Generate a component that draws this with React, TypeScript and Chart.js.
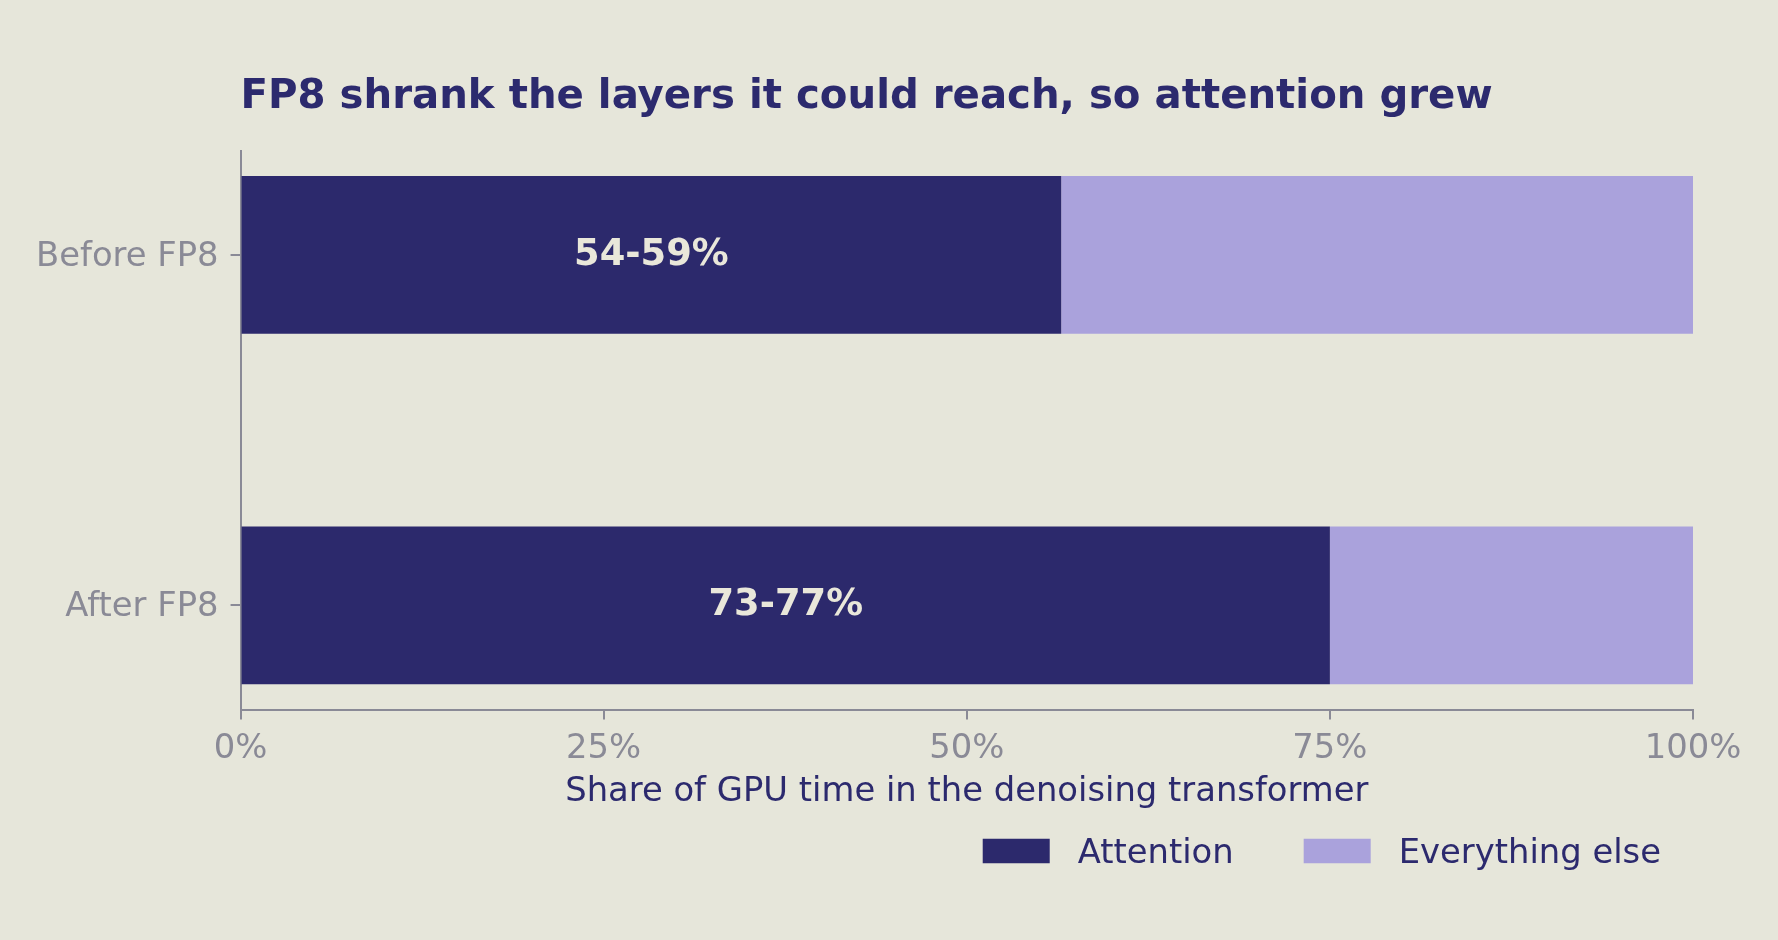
import { useEffect, useRef } from 'react';
import { Chart, registerables } from 'chart.js';

Chart.register(...registerables);

// ---- data ----
const categories = ['Before FP8', 'After FP8'];
const seriesNames = ['Attention', 'Everything else'];
const attentionShare = [56.5, 75];
const everythingElseShare = [43.5, 25];
const attentionLabels = ['54-59%', '73-77%'];
const xTickValues = [0, 25, 50, 75, 100];
const chartTitle = 'FP8 shrank the layers it could reach, so attention grew';
const xAxisTitle = 'Share of GPU time in the denoising transformer';

// ---- style ----
const BG = '#e6e6da';
const DARK = '#2c296c';
const LIGHT = '#aaa2dc';
const NAVY = '#2c2a6e';
const GRAY = '#8a8a96';
const LABEL_TEXT = '#e9e7da';
const FAMILY = "'DejaVu Sans', sans-serif";
const BASE = 33.8;

const barLabelPlugin = {
  id: 'barLabels',
  afterDatasetsDraw(chart: any) {
    const ctx = chart.ctx;
    const meta = chart.getDatasetMeta(0);
    ctx.save();
    ctx.font = `bold 36.8px ${FAMILY}`;
    ctx.fillStyle = LABEL_TEXT;
    ctx.textAlign = 'center';
    ctx.textBaseline = 'alphabetic';
    meta.data.forEach((bar: any, i: number) => {
      const { x, y, base } = bar.getProps(['x', 'y', 'base'], true);
      ctx.fillText(attentionLabels[i], (x + base) / 2, y + 10);
    });
    ctx.restore();
  },
};

const legendPlugin = {
  id: 'customLegend',
  afterDraw(chart: any) {
    const ctx = chart.ctx;
    const xScale = chart.scales.x;
    const cy = xScale.bottom + 44;
    const boxW = 67;
    const boxH = 24.5;
    const gapText = 28;
    const gapItem = 70;
    ctx.save();
    ctx.font = `${BASE}px ${FAMILY}`;
    const items = chart.data.datasets.map((ds: any) => ({
      label: ds.label as string,
      color: ds.backgroundColor as string,
      w: ctx.measureText(ds.label).width as number,
    }));
    const total =
      items.reduce((s: number, it: any) => s + boxW + gapText + it.w, 0) +
      gapItem * (items.length - 1);
    let x = chart.chartArea.right - 32 - total;
    items.forEach((it: any) => {
      ctx.fillStyle = it.color;
      ctx.fillRect(x, cy - boxH / 2, boxW, boxH);
      x += boxW + gapText;
      ctx.fillStyle = NAVY;
      ctx.textAlign = 'left';
      ctx.textBaseline = 'alphabetic';
      ctx.fillText(it.label, x, cy + 12.3);
      x += it.w + gapItem;
    });
    ctx.restore();
  },
};

export default function App() {
  const canvasRef = useRef<HTMLCanvasElement | null>(null);

  useEffect(() => {
    const canvas = canvasRef.current;
    if (!canvas) return;
    Chart.defaults.font.family = FAMILY;

    const chart = new Chart(canvas, {
      type: 'bar',
      data: {
        datasets: [
          {
            label: seriesNames[0],
            data: categories.map((_, i) => ({ x: attentionShare[i], y: i })),
            backgroundColor: DARK,
            borderWidth: 0,
            barPercentage: 0.45,
            categoryPercentage: 1,
          },
          {
            label: seriesNames[1],
            data: categories.map((_, i) => ({ x: everythingElseShare[i], y: i })),
            backgroundColor: LIGHT,
            borderWidth: 0,
            barPercentage: 0.45,
            categoryPercentage: 1,
          },
        ],
      },
      options: {
        animation: false,
        responsive: false,
        devicePixelRatio: 1,
        indexAxis: 'y',
        events: [],
        layout: { padding: { left: 24, right: 85, top: 0, bottom: 133 } },
        plugins: {
          legend: { display: false },
          tooltip: { enabled: false },
          title: {
            display: true,
            text: chartTitle,
            align: 'start',
            fullSize: false,
            color: NAVY,
            font: { family: FAMILY, size: 40.25, weight: 'bold', lineHeight: 1.2 },
            padding: { top: 73.55, bottom: 28.85 },
          },
        },
        scales: {
          x: {
            type: 'linear',
            min: 0,
            max: 100,
            stacked: true,
            offset: false,
            afterBuildTicks: (s: any) => {
              s.ticks = xTickValues.map((v) => ({ value: v }));
            },
            ticks: {
              callback: (v: any) => `${v}%`,
              color: GRAY,
              font: { family: FAMILY, size: BASE },
              padding: 9,
              maxRotation: 0,
              autoSkip: false,
            },
            grid: {
              display: true,
              offset: false,
              drawOnChartArea: false,
              drawTicks: true,
              tickLength: 10,
              color: GRAY,
              lineWidth: 2,
            },
            border: { display: true, color: GRAY, width: 2 },
            title: {
              display: true,
              text: xAxisTitle,
              color: NAVY,
              font: { family: FAMILY, size: BASE, lineHeight: 0.855 },
              padding: { top: 0, bottom: 0 },
            },
          },
          y: {
            type: 'linear',
            reverse: true,
            min: -0.2975,
            max: 1.2975,
            stacked: true,
            offset: false,
            afterBuildTicks: (s: any) => {
              s.ticks = categories.map((_, i) => ({ value: i }));
            },
            ticks: {
              callback: (v: any) => categories[v] ?? '',
              color: GRAY,
              font: { family: FAMILY, size: BASE },
              padding: 12,
              labelOffset: 2,
              autoSkip: false,
            },
            grid: {
              display: true,
              offset: false,
              drawOnChartArea: false,
              drawTicks: true,
              tickLength: 10,
              color: GRAY,
              lineWidth: 2,
            },
            border: { display: true, color: GRAY, width: 2 },
          },
        },
      } as any,
      plugins: [barLabelPlugin, legendPlugin],
    });

    return () => chart.destroy();
  }, []);

  return (
    <div
      style={{
        position: 'fixed',
        left: 0,
        top: 0,
        width: 1778,
        height: 940,
        background: BG,
      }}
    >
      <canvas
        ref={canvasRef}
        width={1778}
        height={940}
        style={{ width: 1778, height: 940, display: 'block' }}
      />
    </div>
  );
}
